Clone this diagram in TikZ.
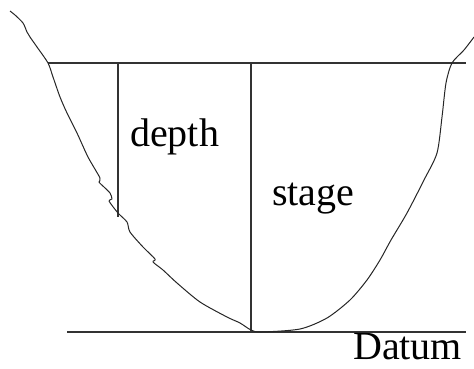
\documentclass[tikz,border=0pt]{standalone}
\usepackage{fontspec}
\setmainfont{Liberation Serif}
\begin{document}
\begin{tikzpicture}[x=1pt,y=-1pt,
  ln/.style={line width=1.1pt,draw=black!80},
  bank/.style={line width=1pt,draw=black!85,line join=round},
  lbl/.style={anchor=base west,inner sep=0pt,text depth=0pt,font=\fontsize{40}{48}\selectfont}]
\useasboundingbox (0,0) rectangle (474,368);
% water surface and datum
\coordinate (wl) at (48,63);
\coordinate (wr) at (466,63);
\coordinate (dl) at (67,332);
\coordinate (dr) at (466,332);
\coordinate (dtop) at (118,63);
\coordinate (dbot) at (118,217);
\coordinate (stop) at (251,63);
\coordinate (sbot) at (251,331);
\draw[ln] (wl) -- (wr);
\draw[ln] (dl) -- (dr);
\draw[ln] (dtop) -- (dbot);
\draw[ln] (stop) -- (sbot);
% channel bank
\draw[bank] plot[smooth,tension=0.45] coordinates {
 (10,11) (15,15) (23,23) (27,32) (30,37) (37,47) (48,63) (53,77) (60,97)
 (67,113) (77,133) (88,157) (100,178) (99,182) (104,187) (110,193) (112,199)
 (109,201) (118,213) (127,222) (130,232) (143,247) (155,259) (153,262)
 (163,270) (177,283) (200,302) (227,317) (240,323) (251,330) (261,332)
 (300,329) (327,318) (350,300) (367,280) (380,260) (391,240) (407,213)
 (424,180) (437,153) (442,117) (446,83) (452,63) (464,50) (474,37)};
\node[lbl] (depth) at (130,146) {depth};
\node[lbl] (stage) at (272,205) {stage};
\node[lbl] (datum) at (353,359) {Datum};
\end{tikzpicture}
\end{document}
